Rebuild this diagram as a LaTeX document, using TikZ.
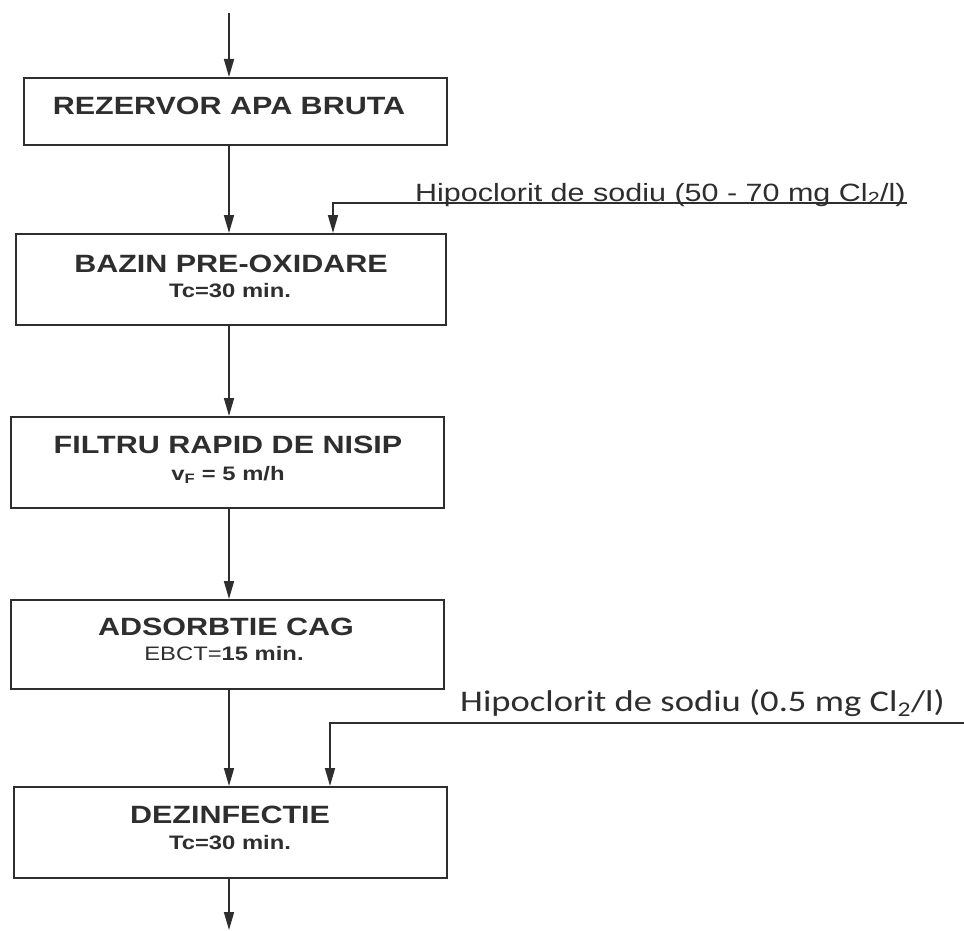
\documentclass[tikz,border=0pt]{standalone}
\usepackage{fontspec}
\setmainfont{Liberation Sans}[FakeStretch=1.22]
\newfontfamily\calib{Carlito}[FakeStretch=1.22]
\usetikzlibrary{arrows.meta}
\definecolor{ink}{HTML}{2E2E2E}
\begin{document}
\begin{tikzpicture}[x=1pt,y=-1pt,
  box/.style={draw=ink, line width=2.2pt, anchor=north west, inner sep=0pt},
  ttl/.style={text=ink, font=\bfseries\fontsize{25}{30}\selectfont, anchor=base, inner sep=0pt},
  subt/.style={text=ink, font=\bfseries\fontsize{19.5}{23}\selectfont, anchor=base, inner sep=0pt},
  arr/.style={draw=ink, line width=1.7pt, -{Triangle[length=18pt,width=10pt]}},
  feedA/.style={text=ink, font=\fontsize{25}{30}\selectfont, anchor=base west, inner sep=0pt},
  feedB/.style={text=ink, font=\calib\fontsize{30}{36}\selectfont, anchor=base west, inner sep=0pt}
]
\useasboundingbox (0,0) rectangle (964,931);

% boxes
\node[box, minimum width=423pt, minimum height=67pt] (b1) at (23,77) {};
\node[box, minimum width=430pt, minimum height=91pt] (b2) at (15,233) {};
\node[box, minimum width=433pt, minimum height=91pt] (b3) at (10,416) {};
\node[box, minimum width=433pt, minimum height=89pt] (b4) at (10,599) {};
\node[box, minimum width=433pt, minimum height=91pt] (b5) at (13,786) {};

% texts
\node[ttl] (t1) at (229,115) {REZERVOR APA BRUTA};
\node[ttl] (t2) at (231,272) {BAZIN PRE-OXIDARE};
\node[subt] (s2) at (230,297) {Tc=30 min.};
\node[ttl] (t3) at (228,453) {FILTRU RAPID DE NISIP};
\node[subt] (s3) at (228,480) {v\textsubscript{F} = 5 m/h};
\node[ttl] (t4) at (226,635) {ADSORBTIE CAG};
\node[subt] (s4) at (224,660) {{\mdseries EBCT=}15 min.};
\node[ttl] (t5) at (230,823) {DEZINFECTIE};
\node[subt] (s5) at (230,849) {Tc=30 min.};

% main flow
\coordinate (in) at (229,13);
\coordinate (out) at (229,930);
\draw[arr] (in) -- (in |- b1.north);
\draw[arr] (in |- b1.south) -- (in |- b2.north);
\draw[arr] (in |- b2.south) -- (in |- b3.north);
\draw[arr] (in |- b3.south) -- (in |- b4.north);
\draw[arr] (in |- b4.south) -- (in |- b5.north);
\draw[arr] (in |- b5.south) -- (out);

% feed 1
\coordinate (f1) at (907,203);
\coordinate (k1) at (333,203);
\draw[arr] (f1) -- (k1) -- (k1 |- b2.north);
\node[feedA] (h1) at (415,201) {Hipoclorit de sodiu (50 - 70 mg Cl\textsubscript{2}/l)};

% feed 2
\coordinate (f2) at (966,723);
\coordinate (k2) at (330,723);
\draw[arr] (f2) -- (k2) -- (k2 |- b5.north);
\node[feedB] (h2) at (460,711) {Hipoclorit de sodiu (0.5 mg Cl\textsubscript{2}/l)};
\end{tikzpicture}
\end{document}
